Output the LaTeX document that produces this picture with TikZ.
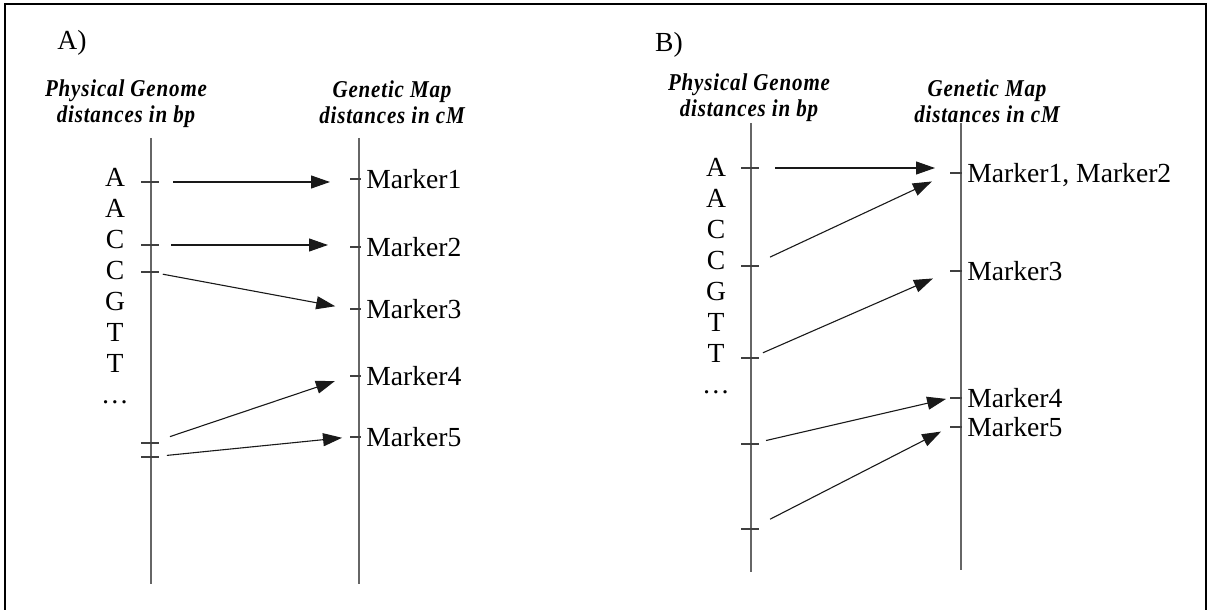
\documentclass[tikz,border=0pt]{standalone}
\usepackage{fontspec}
\setmainfont{Liberation Serif}
\newfontfamily\headfont{Liberation Serif}[LetterSpace=4]
\usetikzlibrary{arrows.meta,positioning}
\newcommand{\tallline}[1]{\scalebox{1}[1.15]{#1}}
\tikzset{axis/.style={gray!80!black,line width=0.8pt},
         tickmark/.style={black!75,line width=0.6pt},
         maparrow/.style={-{Triangle[length=9.5pt,width=6.5pt]},line width=0.55pt,black!90},
         base/.style={font=\fontsize{13.8}{16}\selectfont,inner sep=0pt},
         head/.style={font=\fontsize{10.5}{13}\selectfont\headfont\bfseries\itshape,
                      align=center,inner sep=0pt}}

\begin{document}
\begin{tikzpicture}[x=0.5pt,y=-0.5pt]
\useasboundingbox (0,0) rectangle (1207,610);
% frame, open at the bottom
\draw[line width=1pt] (5,610) -- (5,4) -- (1206,4) -- (1206,610);

% ---------- panel A ----------
\node[base] (labA) at (72,43) {A)};
\node[head] (physA) at (126,104) {\tallline{Physical Genome}\\\tallline{distances in bp}};
\node[head] (geneA) at (392,102) {\tallline{Genetic Map}\\\tallline{distances in cM}};
\draw[axis] (151,138) -- (151,584);
\draw[axis] (359,138) -- (359,584);
\foreach \b [count=\i from 0] in {A,A,C,C,G,T,T,\ldots}
  \node[base,anchor=base,yshift=-4.6pt] (bA\i) at (115,177+31*\i) {\b};
\foreach \y [count=\i] in {182,245,272,443,457} {
  \coordinate (pA\i) at (151,\y);
  \draw[tickmark] ([xshift=-5pt]pA\i) -- ([xshift=4pt]pA\i);
}
\foreach \y/\t [count=\i] in {179/Marker1,247/Marker2,309/Marker3,376/Marker4,437/Marker5} {
  \coordinate (mA\i) at (350,\y);
  \draw[tickmark] (mA\i) -- ++(11,0);
  \node[base,anchor=base west,yshift=-4.6pt] (kA\i) at (366,\y) {\t};
}
% first two arrows run level
\foreach \s/\e/\a/\z in {1/pA1-|mA1/11/10,2/pA2-|mA2/10/11,3/mA3/6/7.5,4/mA4/10/8,5/mA5/8/4}
  \draw[maparrow,shorten <=\a pt,shorten >=\z pt] (pA\s) -- (\e);

% ---------- panel B ----------
\node[base] (labB) at (669,45) {B)};
\node[head] (physB) at (749,98) {\tallline{Physical Genome}\\\tallline{distances in bp}};
\node[head] (geneB) at (987,101) {\tallline{Genetic Map}\\\tallline{distances in cM}};
\draw[axis] (751,123) -- (751,572);
\draw[axis] (961,123) -- (961,570);
\foreach \b [count=\i from 0] in {A,A,C,C,G,T,T,\ldots}
  \node[base,anchor=base,yshift=-4.6pt] (bB\i) at (716,167+31*\i) {\b};
\foreach \y [count=\i] in {168,266,358,444,529} {
  \coordinate (pB\i) at (751,\y);
  \draw[tickmark] ([xshift=-5pt]pB\i) -- ([xshift=4pt]pB\i);
}
\foreach \y/\t [count=\i] in {173/{Marker1, Marker2},271/Marker3,398/Marker4,427/Marker5} {
  \coordinate (mB\i) at (950,\y);
  \draw[tickmark] (mB\i) -- ++(12,0);
  \node[base,anchor=base west,yshift=-4.6pt] (kB\i) at (967,\y) {\t};
}
\foreach \s/\e/\a/\z in {1/pB1-|mB1/12/7.5,2/mB1/10.5/10,3/mB2/6.5/9.3,4/mB3/7.7/2,5/mB4/10.7/5}
  \draw[maparrow,shorten <=\a pt,shorten >=\z pt] (pB\s) -- (\e);
\end{tikzpicture}
\end{document}
